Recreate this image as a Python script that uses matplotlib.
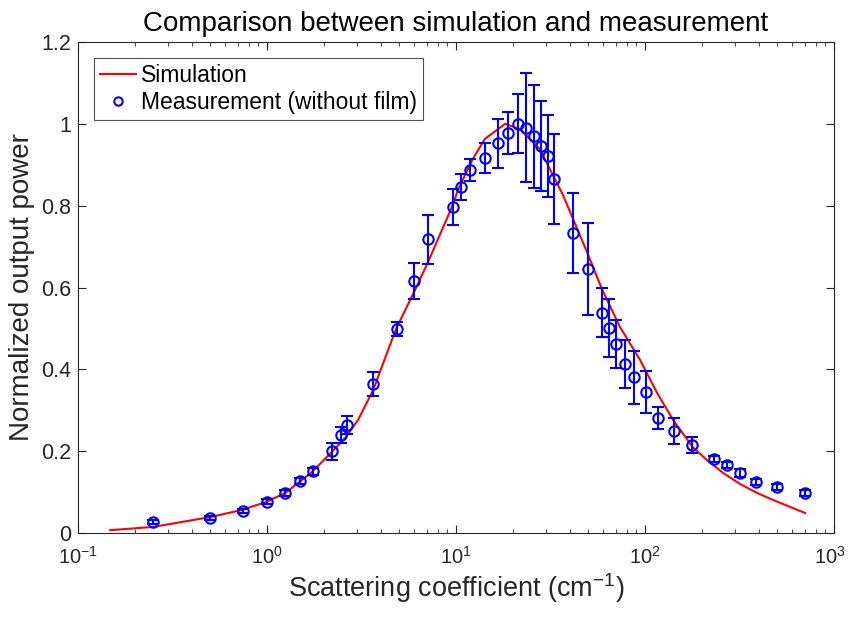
import matplotlib.pyplot as plt
import matplotlib.transforms as mtransforms
from matplotlib.lines import Line2D
import numpy as np

plt.rcParams['font.family'] = ['Liberation Sans', 'DejaVu Sans']
plt.rcParams['mathtext.fontset'] = 'custom'
plt.rcParams['mathtext.rm'] = 'Liberation Sans'

# simulation curve (sampled)
sim_x = [0.148, 0.25, 0.5, 0.73, 0.99, 1.25, 1.71, 2.18, 2.59, 3.03, 3.64, 4.82, 6.07,
         7.11, 9.42, 10.3, 12.2, 14.2, 18.2, 21.8, 27.8, 36.8, 49.3, 59.2, 73.8,
         94.2, 116, 141, 179, 213, 259, 318, 392, 475, 585, 703]
sim_y = [0.007, 0.015, 0.039, 0.056, 0.076, 0.098, 0.147, 0.196, 0.232, 0.276, 0.349, 0.499, 0.594,
         0.662, 0.792, 0.841, 0.912, 0.963, 1.0, 0.987, 0.938, 0.826, 0.687, 0.596, 0.503,
         0.423, 0.342, 0.276, 0.210, 0.178, 0.147, 0.120, 0.098, 0.081, 0.064, 0.049]

# measurement (without film)
meas_x = [0.25, 0.5, 0.75, 1.0, 1.25, 1.5, 1.75, 2.2, 2.45, 2.65, 3.65, 4.9, 6.0, 7.1,
          9.6, 10.6, 11.9, 14.2, 16.7, 18.8, 21.3, 23.5, 25.9, 28.2, 30.7, 33.0, 41.6,
          49.9, 59.2, 64.5, 70.3, 78.4, 87.5, 101, 117, 142, 177, 232, 272, 318, 387,
          499, 703]
meas_y = [0.027, 0.037, 0.054, 0.076, 0.098, 0.127, 0.151, 0.200, 0.240, 0.264, 0.364,
          0.499, 0.616, 0.718, 0.797, 0.846, 0.887, 0.916, 0.953, 0.978, 1.0, 0.99, 0.970,
          0.946, 0.921, 0.865, 0.733, 0.645, 0.538, 0.501, 0.462, 0.413, 0.381, 0.345,
          0.281, 0.249, 0.215, 0.181, 0.166, 0.147, 0.125, 0.112, 0.098]
meas_err = [0.006, 0.005, 0.005, 0.006, 0.007, 0.008, 0.009, 0.021, 0.02, 0.022, 0.03,
            0.017, 0.045, 0.06, 0.044, 0.032, 0.027, 0.037, 0.06, 0.051, 0.072, 0.133,
            0.126, 0.111, 0.101, 0.11, 0.097, 0.113, 0.06, 0.07, 0.058, 0.058, 0.065,
            0.052, 0.027, 0.031, 0.02, 0.008, 0.008, 0.009, 0.007, 0.007, 0.007]

fig = plt.figure(figsize=(8.48, 6.22), dpi=100)
ax = fig.add_axes([0.092, 0.143, 0.8915, 0.7895])

ax.plot(sim_x, sim_y, color='red', lw=1.5)
ax.errorbar(meas_x, meas_y, yerr=meas_err, fmt='o', color='blue', mfc='none',
            ms=7.5, mew=1.5, elinewidth=1.5, capsize=4.3, capthick=1.5)

ax.set_xscale('log')
ax.set_xlim(0.1, 1000)
ax.set_ylim(0, 1.2)
ax.set_xticks([0.1, 1, 10, 100, 1000])
ax.set_xticklabels(['$10^{-1}$', '$10^{0}$', '$10^{1}$', '$10^{2}$', '$10^{3}$'])
ax.set_yticks([0, 0.2, 0.4, 0.6, 0.8, 1, 1.2])
ax.set_yticklabels(['0', '0.2', '0.4', '0.6', '0.8', '1', '1.2'])

txt = '#262626'
ax.tick_params(which='both', direction='in', top=True, right=True, colors=txt,
               labelsize=14.5)
ax.tick_params(axis='y', labelsize=15.5, pad=5)
ax.tick_params(axis='x', which='major', pad=9)
ax.tick_params(which='major', length=6)
ax.tick_params(which='minor', length=3)
for s in ax.spines.values():
    s.set_color(txt)
    s.set_linewidth(0.8)

# keep the last x tick label inside the figure
last = ax.get_xticklabels()[-1]
last.set_transform(last.get_transform() +
                   mtransforms.ScaledTranslation(-4 / 100, 0, fig.dpi_scale_trans))

ax.set_title('Comparison between simulation and measurement', fontsize=20, color='black', pad=8)
ax.set_xlabel('Scattering coefficient (cm$^{-1}$)', fontsize=19.5, color=txt, labelpad=3)
ax.set_ylabel('Normalized output power', fontsize=20, color=txt, labelpad=4)

handles = [Line2D([], [], color='red', lw=1.5),
           Line2D([], [], color='blue', marker='o', mfc='none', ms=6, mew=1.5, ls='none')]
leg = ax.legend(handles, ['Simulation', 'Measurement (without film)'],
                loc='upper left', fontsize=16.5, frameon=True, fancybox=False,
                edgecolor=txt, handlelength=1.6, borderaxespad=0.7, borderpad=0.25,
                labelspacing=0.2, handletextpad=0.2)
leg.get_frame().set_linewidth(0.8)

fig.savefig('out.png', dpi=100)
